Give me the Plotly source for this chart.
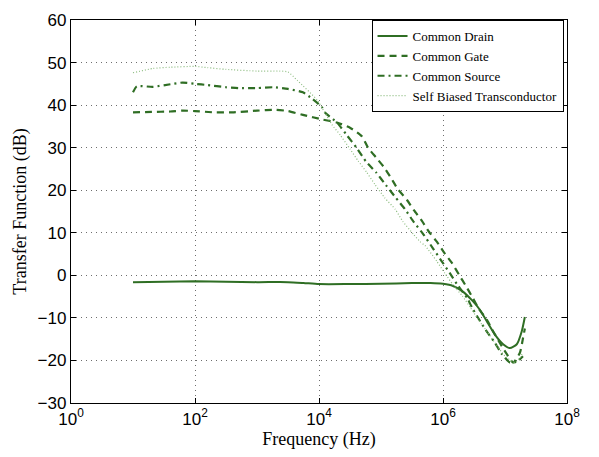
import plotly.graph_objects as go

# ---- data (frequency in Hz, transfer function in dB) ----
drain_f = [10, 32, 100, 316, 1000, 3160, 5620, 1e4, 31600, 1e5, 316000, 631000,
           1e6, 1.45e6, 2.04e6, 2.95e6, 3.98e6, 5.13e6, 6.92e6, 9.33e6, 1.2e7,
           1.55e7, 1.86e7, 2.09e7]
drain_db = [-1.6, -1.5, -1.4, -1.5, -1.6, -1.6, -1.8, -2.05, -2.05, -2.0, -1.8, -1.8,
            -2.0, -2.5, -3.7, -5.9, -8.2, -10.9, -14.0, -16.2, -17.1,
            -16.2, -13.2, -9.8]

gate_f = [10, 20, 40, 63, 100, 200, 400, 1000, 2000, 3160, 5500, 11500, 19500,
          31600, 49000, 61700, 83200, 112000, 145000, 186000, 263000, 339000,
          457000, 589000, 794000, 1.07e6, 1.41e6, 1.82e6, 2.34e6, 3.02e6, 3.8e6,
          5.13e6, 6.46e6, 8.91e6, 1.07e7, 1.35e7, 1.74e7, 1.95e7, 2.09e7]
gate_db = [38.3, 38.4, 38.5, 38.7, 38.6, 38.3, 38.3, 38.7, 38.9, 38.6, 37.7, 36.6, 35.9,
           34.7, 32.7, 30.0, 27.7, 25.4, 22.9, 20.3, 17.7, 15.3,
           12.8, 10.3, 7.9, 5.1, 2.8, 0.1, -2.5, -5.3, -7.9,
           -10.5, -13.2, -16.7, -18.5, -20.5, -18.2, -14.8, -12.5]

source_f = [10, 11.5, 21, 40, 63, 100, 160, 316, 500, 1000, 1820, 3160, 5500, 7760,
            11200, 12600, 19500, 28200, 40700, 57500, 83200, 120000, 174000,
            245000, 339000, 479000, 692000, 955000, 1.29e6, 1.74e6, 2.45e6,
            3.02e6, 3.98e6, 5.13e6, 6.92e6, 8.91e6, 1.2e7, 1.55e7, 1.95e7]
source_db = [43.0, 44.4, 44.3, 44.9, 45.3, 45.0, 44.7, 44.2, 44.0, 44.0, 44.2, 43.8, 43.0, 41.5,
             39.5, 38.2, 35.9, 32.9, 29.9, 26.7, 24.2, 21.2, 18.2,
             15.5, 12.5, 9.7, 6.3, 3.3, 0.5, -2.4, -5.3,
             -7.9, -10.8, -13.3, -15.9, -18.5, -20.5, -20.3, -19.0]

sbt_f = [10, 21, 40, 100, 160, 316, 1000, 2340, 3160, 4470, 9330, 16200, 21900,
         31600, 42700, 58900, 79400, 115000, 170000, 224000, 331000, 427000,
         513000, 794000, 1.07e6, 1.45e6, 2.04e6, 2.75e6, 3.63e6, 5.13e6, 6.92e6,
         1e7, 1.45e7, 1.74e7, 1.95e7]
sbt_db = [47.6, 48.6, 48.9, 49.1, 48.8, 48.4, 48.0, 48.0, 47.8, 45.8, 41.2, 35.4, 33.0,
          29.7, 26.9, 24.2, 21.4, 18.2, 15.5, 12.7, 9.7, 7.9,
          7.0, 3.3, 0.5, -2.2, -4.8, -7.5, -10.2, -13.2, -15.9,
          -19.0, -20.5, -19.4, -18.0]

x_tick_vals = [1, 100, 1e4, 1e6, 1e8]
x_tick_text = ["10<sup>0</sup>", "10<sup>2</sup>", "10<sup>4</sup>", "10<sup>6</sup>", "10<sup>8</sup>"]

green = "#2f6e24"
light_green = "#8cbc7f"

fig = go.Figure()
fig.add_trace(go.Scatter(x=drain_f, y=drain_db, mode="lines", name="Common Drain",
                         line=dict(color=green, width=2, shape="spline", smoothing=0.6)))
fig.add_trace(go.Scatter(x=gate_f, y=gate_db, mode="lines", name="Common Gate",
                         line=dict(color=green, width=2.2, dash="7px,5px", shape="spline", smoothing=0.5)))
fig.add_trace(go.Scatter(x=source_f, y=source_db, mode="lines", name="Common Source",
                         line=dict(color=green, width=2.2, dash="7px,4px,2px,4px", shape="spline", smoothing=0.5)))
fig.add_trace(go.Scatter(x=sbt_f, y=sbt_db, mode="lines", name="Self Biased Transconductor",
                         line=dict(color=light_green, width=1.2, dash="1px,2px", shape="spline", smoothing=0.5)))

axis_common = dict(showline=True, linecolor="black", linewidth=1.3, mirror="ticks",
                   ticks="inside", ticklen=5, tickcolor="black", zeroline=False,
                   showgrid=True, gridcolor="#6e6e6e", griddash="1px,4px", gridwidth=1,
                   tickfont=dict(family="Liberation Sans, Arial", size=17, color="black"))

fig.update_xaxes(type="log", range=[0, 8], tickvals=x_tick_vals, ticktext=x_tick_text,
                 title=dict(text="Frequency (Hz)", standoff=2,
                            font=dict(family="Liberation Serif, Times New Roman", size=18, color="black")),
                 **axis_common)
fig.update_yaxes(range=[-30, 60], dtick=10, tick0=0,
                 title=dict(text="Transfer Function (dB)", standoff=6,
                            font=dict(family="Liberation Serif, Times New Roman", size=18, color="black")),
                 **axis_common)

fig.update_layout(
    width=599, height=457,
    margin=dict(l=71, r=32, t=11, b=54),
    plot_bgcolor="white", paper_bgcolor="white",
    showlegend=True,
    legend=dict(x=0.993, y=1.0, xanchor="right", yanchor="top",
                bgcolor="white", bordercolor="black", borderwidth=1,
                font=dict(family="Liberation Serif, Times New Roman", size=13, color="black"),
                tracegroupgap=0, itemwidth=30),
)

fig.write_html("out.html")
